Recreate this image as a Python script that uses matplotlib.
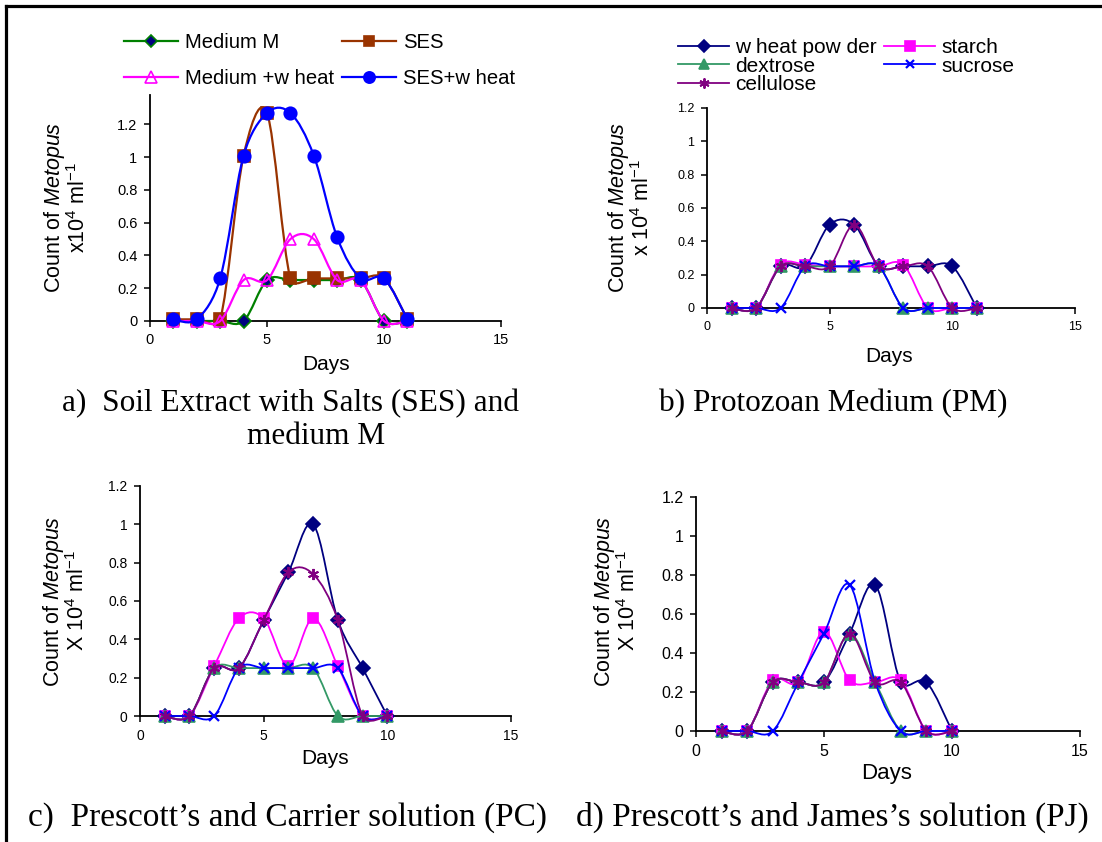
import numpy as np
import matplotlib
matplotlib.use("Agg")
import matplotlib.pyplot as plt
from matplotlib.path import Path
from matplotlib.patches import PathPatch
from matplotlib.lines import Line2D

plt.rcParams["font.family"] = ["Liberation Sans", "DejaVu Sans"]
plt.rcParams["mathtext.fontset"] = "custom"
plt.rcParams["mathtext.rm"] = "Liberation Sans"
plt.rcParams["mathtext.it"] = "Liberation Sans:italic"
plt.rcParams["mathtext.bf"] = "Liberation Sans:bold"

# ---------------- data ----------------
days_a = [1, 2, 3, 4, 5, 6, 7, 8, 9, 10, 11]
medium_m = [0, 0, 0, 0, 0.25, 0.25, 0.25, 0.25, 0.25, 0, 0]
ses = [0.01, 0.01, 0.01, 1.01, 1.27, 0.26, 0.26, 0.26, 0.26, 0.26, 0.01]
medium_wheat = [0, 0, 0, 0.25, 0.25, 0.5, 0.5, 0.25, 0.25, 0, 0]
ses_wheat = [0.01, 0.01, 0.26, 1.01, 1.27, 1.27, 1.01, 0.51, 0.26, 0.26, 0.01]

days_b = [1, 2, 3, 4, 5, 6, 7, 8, 9, 10, 11]
pm_wheat = [0, 0, 0.25, 0.25, 0.5, 0.5, 0.25, 0.25, 0.25, 0.25, 0]
pm_starch = [0, 0, 0.26, 0.26, 0.25, 0.25, 0.25, 0.26, 0, 0, 0]
pm_dextrose = [0, 0, 0.25, 0.25, 0.25, 0.25, 0.25, 0, 0, 0, 0]
pm_sucrose = [0, 0, 0, 0.25, 0.25, 0.25, 0.25, 0, 0, 0, 0]
pm_cellulose = [0, 0, 0.25, 0.25, 0.25, 0.5, 0.25, 0.25, 0.25, 0, 0]

days_c = [1, 2, 3, 4, 5, 6, 7, 8, 9, 10]
pc_wheat = [0, 0, 0.25, 0.25, 0.5, 0.75, 1.0, 0.5, 0.25, 0]
pc_starch = [0, 0, 0.26, 0.51, 0.51, 0.26, 0.51, 0.26, 0, 0]
pc_dextrose = [0, 0, 0.25, 0.25, 0.25, 0.25, 0.25, 0, 0, 0]
pc_sucrose = [0, 0, 0, 0.25, 0.25, 0.25, 0.25, 0.25, 0, 0]
pc_cellulose = [0, 0, 0.25, 0.25, 0.5, 0.75, 0.74, 0.5, 0, 0]

days_d = [1, 2, 3, 4, 5, 6, 7, 8, 9, 10]
pj_wheat = [0, 0, 0.25, 0.25, 0.25, 0.5, 0.75, 0.25, 0.25, 0]
pj_starch = [0, 0, 0.26, 0.25, 0.51, 0.26, 0.25, 0.26, 0, 0]
pj_dextrose = [0, 0, 0.25, 0.25, 0.25, 0.5, 0.25, 0, 0, 0]
pj_sucrose = [0, 0, 0, 0.25, 0.5, 0.75, 0.25, 0, 0, 0]
pj_cellulose = [0, 0, 0.25, 0.25, 0.25, 0.5, 0.25, 0.25, 0, 0]

x_ticks = [0, 5, 10, 15]
y_ticks = [0, 0.2, 0.4, 0.6, 0.8, 1.0, 1.2]
y_tick_labels = ["0", "0.2", "0.4", "0.6", "0.8", "1", "1.2"]

captions = [
    "a)  Soil Extract with Salts (SES) and",
    "medium M",
    "b) Protozoan Medium (PM)",
    "c)  Prescott\u2019s and Carrier solution (PC)",
    "d) Prescott\u2019s and James\u2019s solution (PJ)",
]

# ---------------- styles ----------------
NAVY, GREEN, BROWN, MAGENTA, BLUE = "#000080", "#008000", "#993300", "#FF00FF", "#0000FF"
SEAGREEN, PURPLE = "#339966", "#800080"

style_a = [
    dict(label="Medium M", color=GREEN, marker="D", mfc=NAVY, mec=GREEN, ms=7),
    dict(label="SES", color=BROWN, marker="s", mfc=BROWN, mec=BROWN, ms=8),
    dict(label="Medium +w heat", color=MAGENTA, marker="^", mfc="none", mec=MAGENTA, ms=9),
    dict(label="SES+w heat", color=BLUE, marker="o", mfc=BLUE, mec=BLUE, ms=9),
]
style_sugar = [
    dict(label="w heat pow der", color=NAVY, marker="D", mfc=NAVY, mec=NAVY, ms=7),
    dict(label="starch", color=MAGENTA, marker="s", mfc=MAGENTA, mec=MAGENTA, ms=7.5),
    dict(label="dextrose", color=SEAGREEN, marker="^", mfc=SEAGREEN, mec=SEAGREEN, ms=8),
    dict(label="sucrose", color=BLUE, marker="x", mfc=BLUE, mec=BLUE, ms=7, mew=1.6),
    dict(label="cellulose", color=PURPLE, marker=(6, 2, 0), mfc=PURPLE, mec=PURPLE, ms=8, mew=1.4),
]

W, H = 1102, 842
fig = plt.figure(figsize=(W / 100, H / 100), dpi=100)


def axes_px(x0, x1, y_top, y_bot):
    return fig.add_axes([x0 / W, 1 - y_bot / H, (x1 - x0) / W, (y_bot - y_top) / H])


def smooth_path(ax, x, y):
    """Smoothed line: cubic Bezier segments whose control arms follow the
    neighbouring points (1/6 factor), capped at half the segment length
    measured on screen."""
    pts = np.column_stack([x, y]).astype(float)
    scr = ax.transData.transform(pts)
    n = len(pts)
    verts = [pts[0]]
    codes = [Path.MOVETO]
    for i in range(n - 1):
        i0 = i - 1 if i > 0 else i
        i3 = i + 2 if i + 2 < n else i + 1
        p0, p1, p2, p3 = pts[i0], pts[i], pts[i + 1], pts[i3]
        s0, s1, s2, s3 = scr[i0], scr[i], scr[i + 1], scr[i3]
        d12 = np.hypot(*(s2 - s1))
        d02 = np.hypot(*(s2 - s0))
        d13 = np.hypot(*(s3 - s1))
        f0 = 1 / 6 if d02 / 6 < d12 / 2 else (d12 / 2 / d02 if d02 > 0 else 0)
        f3 = 1 / 6 if d13 / 6 < d12 / 2 else (d12 / 2 / d13 if d13 > 0 else 0)
        verts += [p1 + (p2 - p0) * f0, p2 - (p3 - p1) * f3, p2]
        codes += [Path.CURVE4] * 3
    return Path(verts, codes)


def draw_series(ax, x, y, st, lw, z):
    ax.add_patch(PathPatch(smooth_path(ax, x, y), fill=False, edgecolor=st["color"],
                           lw=lw, zorder=z, clip_on=False, capstyle="round",
                           joinstyle="round"))
    ax.plot(x, y, linestyle="none", marker=st["marker"], ms=st["ms"],
            mfc=st["mfc"], mec=st["mec"], mew=st.get("mew", 1.2),
            zorder=z + 0.5, clip_on=False)


def handle(st, lw):
    return Line2D([], [], color=st["color"], lw=lw, marker=st["marker"],
                  ms=st["ms"] * 0.9, mfc=st["mfc"], mec=st["mec"],
                  mew=st.get("mew", 1.2))


def style_axes(ax, ymax, tick_size):
    ax.set_xlim(0, 15)
    ax.set_ylim(0, ymax)
    ax.set_xticks(x_ticks)
    ax.set_yticks(y_ticks)
    ax.set_yticklabels(y_tick_labels)
    for s in ("top", "right"):
        ax.spines[s].set_visible(False)
    for s in ("left", "bottom"):
        ax.spines[s].set_linewidth(1.3)
        ax.spines[s].set_color("black")
    ax.tick_params(direction="out", length=4, width=1.1, labelsize=tick_size,
                   colors="black", pad=5)
    ax.patch.set_alpha(0)


# ---------------- panel a ----------------
ax_a = axes_px(150, 501, 95, 321)
style_axes(ax_a, 1.38, 10.5)
for i, (yv, st) in enumerate(zip([medium_m, ses, medium_wheat, ses_wheat], style_a)):
    draw_series(ax_a, days_a, yv, st, 1.6, 3 + i)

# ---------------- panels b, c, d ----------------
panels = [
    ((707, 1075, 108, 308), days_b, [pm_wheat, pm_starch, pm_dextrose, pm_sucrose, pm_cellulose], 9),
    ((140, 511, 486, 716), days_c, [pc_wheat, pc_starch, pc_dextrose, pc_sucrose, pc_cellulose], 10),
    ((696, 1080, 497, 731), days_d, [pj_wheat, pj_starch, pj_dextrose, pj_sucrose, pj_cellulose], 11.5),
]
for box, dx, series, tsz in panels:
    ax = axes_px(*box)
    style_axes(ax, 1.2, tsz)
    for i, (yv, st) in enumerate(zip(series, style_sugar)):
        draw_series(ax, dx, yv, st, 1.3, 3 + i)

# ---------------- axis titles ----------------
def px(x, y):
    return x / W, 1 - y / H


ylabels = [
    ((66, 207), "Count of $\\it{Metopus}$\nx10$^4$ ml$^{-1}$"),
    ((630, 207), "Count of $\\it{Metopus}$\nx 10$^4$ ml$^{-1}$"),
    ((65, 601), "Count of $\\it{Metopus}$\nX 10$^4$ ml$^{-1}$"),
    ((616, 601), "Count of $\\it{Metopus}$\nX 10$^4$ ml$^{-1}$"),
]
for (x, y), txt in ylabels:
    fig.text(*px(x, y), txt, rotation=90, ha="center", va="center",
             fontsize=15.5, linespacing=1.05, multialignment="center")

for (x, y), fs in [((326, 365), 15), ((889, 357), 15), ((325, 759), 15), ((887, 774), 16)]:
    fig.text(*px(x, y), "Days", ha="center", va="center", fontsize=fs)

# ---------------- captions ----------------
caption_spec = [((290, 404), 22.5), ((316, 437), 22.5), ((833, 404), 22.5),
                ((288, 817), 24), ((832, 817), 24)]
for ((x, y), fs), txt in zip(caption_spec, captions):
    fig.text(*px(x, y), txt, ha="center", va="center", fontsize=fs,
             family="Liberation Serif")

# ---------------- legends ----------------
ha_ = [handle(st, 1.6) for st in style_a]
order_a = [0, 2, 1, 3]
fig.legend([ha_[i] for i in order_a], [style_a[i]["label"] for i in order_a],
           loc="upper left", bbox_to_anchor=px(124, 33), ncol=2, frameon=False,
           fontsize=14.6, handlelength=2.65, handletextpad=0.35, columnspacing=0.4,
           labelspacing=0.85, borderpad=0, borderaxespad=0)

hs = [handle(st, 1.3) for st in style_sugar]
order_b = [0, 2, 4, 1, 3]
fig.legend([hs[i] for i in order_b], [style_sugar[i]["label"] for i in order_b],
           loc="upper left", bbox_to_anchor=px(678, 38), ncol=2, frameon=False,
           fontsize=15.0, handlelength=2.45, handletextpad=0.28, columnspacing=0.37,
           labelspacing=-0.02, borderpad=0, borderaxespad=0)

# ---------------- frame ----------------
fig.add_artist(Line2D([6 / W, 6 / W], [0, 1 - 6 / H], color="black", lw=2.3,
                      transform=fig.transFigure))
fig.add_artist(Line2D([6 / W, 1], [1 - 6 / H, 1 - 6 / H], color="black", lw=2.3,
                      transform=fig.transFigure))

fig.savefig("out.png", dpi=100, facecolor="white")
